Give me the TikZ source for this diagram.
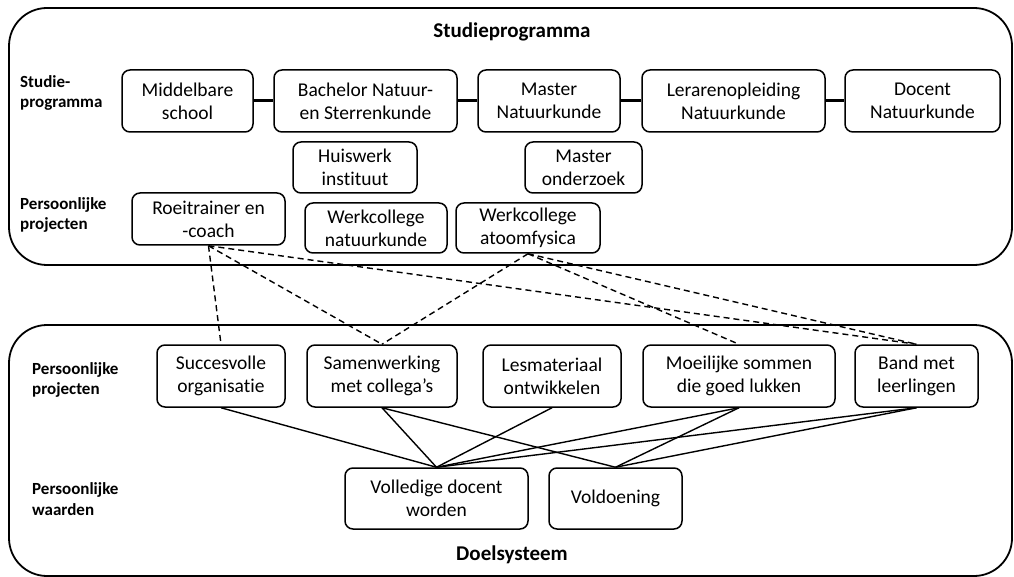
\documentclass[tikz,border=0pt]{standalone}
\usepackage{fontspec}
\setmainfont[Ligatures=NoCommon]{Carlito}
\begin{document}
\begin{tikzpicture}[x=1pt,y=-1pt,
  box/.style={draw,rounded corners=8pt,line width=1.5pt,inner sep=0pt,align=center,
    font=\fontsize{19.5}{23}\selectfont},
  lab/.style={anchor=west,align=left,inner sep=0pt,font=\bfseries\fontsize{17}{20.5}\selectfont},
  ttl/.style={inner sep=0pt,font=\bfseries\fontsize{21}{24}\selectfont},
  container/.style={draw,rounded corners=38pt,line width=1.8pt},
  link/.style={line width=3pt},
  dlink/.style={line width=1.4pt,dash pattern=on 6pt off 4pt},
  slink/.style={line width=1.4pt}]
\useasboundingbox (0,0) rectangle (1014,577);
% containers
\draw[container] (9,8) rectangle (1012,265);
\draw[container] (9,325) rectangle (1012,576);
\node[ttl] (t1) at (512,32) {Studieprogramma};
\node[ttl] (t2) at (512,555) {Doelsysteem};
% labels
\node[lab] (l1) at (20,93) {Studie-\\programma};
\node[lab] (l2) at (20,215) {Persoonlijke\\projecten};
\node[lab] (l3) at (32,380) {Persoonlijke\\projecten};
\node[lab] (l4) at (32,499) {Persoonlijke\\waarden};
% top row
\node[box,minimum width=131pt,minimum height=62pt] (mid) at (187.5,101) {Middelbare\\school};
\node[box,minimum width=183pt,minimum height=62pt] (bach) at (365.5,101) {Bachelor Natuur-\\en Sterrenkunde};
\node[box,minimum width=142pt,minimum height=62pt] (mast) at (549,101) {Master\\Natuurkunde};
\node[box,minimum width=183pt,minimum height=62pt] (lera) at (733.5,101) {Lerarenopleiding\\Natuurkunde};
\node[box,minimum width=155pt,minimum height=62pt] (doc) at (922.5,101) {Docent\\Natuurkunde};
\draw[link] (mid) -- (bach);
\draw[link] (bach) -- (mast);
\draw[link] (mast) -- (lera);
\draw[link] (lera) -- (doc);
% second row
\node[box,minimum width=124pt,minimum height=51pt] (huis) at (355,167.5) {Huiswerk\\instituut};
\node[box,minimum width=117pt,minimum height=51pt] (mond) at (583.5,167.5) {Master\\onderzoek};
\node[box,minimum width=153pt,minimum height=52pt] (roei) at (208.5,219) {Roeitrainer en\\-coach};
\node[box,minimum width=142pt,minimum height=50pt] (wnat) at (376,228) {Werkcollege\\natuurkunde};
\node[box,minimum width=144pt,minimum height=50pt] (wato) at (528,228) {Werkcollege\\atoomfysica};
% bottom row
\node[box,minimum width=128pt,minimum height=62pt] (succ) at (221,376) {Succesvolle\\organisatie};
\node[box,minimum width=150pt,minimum height=62pt] (samen) at (382,376) {Samenwerking\\met collega’s};
\node[box,minimum width=138pt,minimum height=62pt] (les) at (552,376) {Lesmateriaal\\ontwikkelen};
\node[box,minimum width=192pt,minimum height=62pt] (moei) at (739,376) {Moeilijke sommen\\die goed lukken};
\node[box,minimum width=123pt,minimum height=62pt] (band) at (916.5,376) {Band met\\leerlingen};
% values
\node[box,minimum width=183pt,minimum height=61pt] (vol) at (436.5,498.5) {Volledige docent\\worden};
\node[box,minimum width=133pt,minimum height=61pt] (vold) at (615.5,498.5) {Voldoening};
% dashed links
\draw[dlink] (roei.south) -- (succ.north);
\draw[dlink] (roei.south) -- (samen.north);
\draw[dlink] (roei.south) -- (band.north);
\draw[dlink] (wato.south) -- (samen.north);
\draw[dlink] (wato.south) -- (moei.north);
\draw[dlink] (wato.south) -- (band.north);
% solid links
\draw[slink] (succ.south) -- (vol.north);
\draw[slink] (samen.south) -- (vol.north);
\draw[slink] (samen.south) -- (vold.north);
\draw[slink] (les.south) -- (vol.north);
\draw[slink] (moei.south) -- (vol.north);
\draw[slink] (moei.south) -- (vold.north);
\draw[slink] (band.south) -- (vol.north);
\draw[slink] (band.south) -- (vold.north);
\end{tikzpicture}
\end{document}
